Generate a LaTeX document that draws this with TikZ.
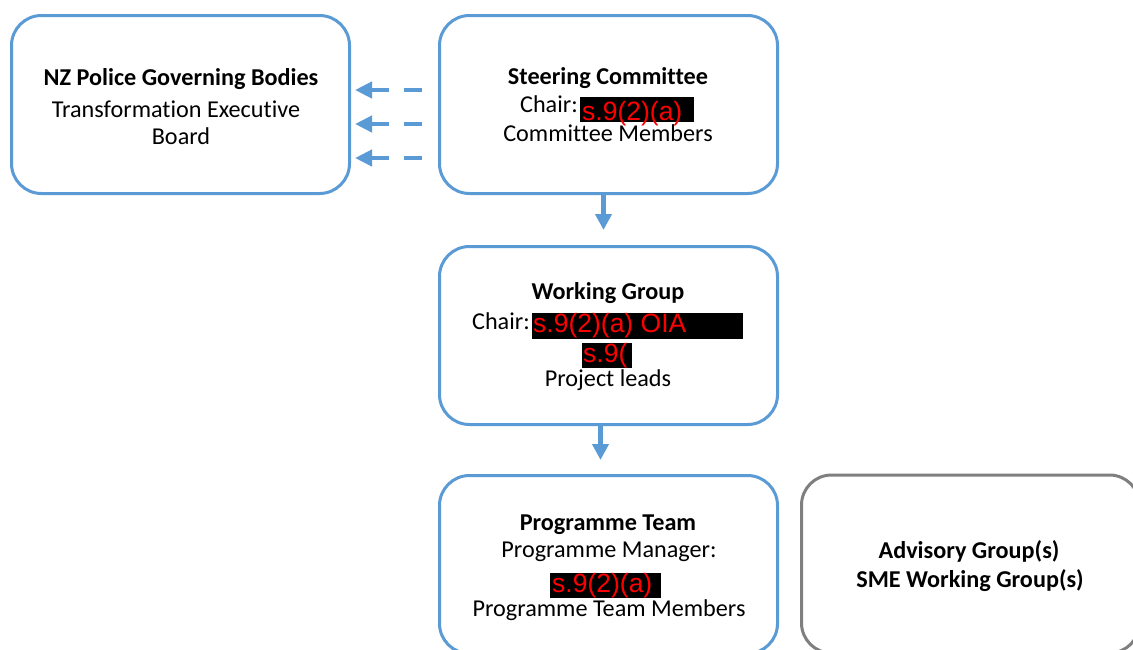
\documentclass[tikz,border=0pt]{standalone}
\usepackage{fontspec}
\setmainfont{Carlito}[Ligatures=NoCommon]
\newfontfamily\redactfont{Liberation Sans}
\usetikzlibrary{arrows.meta}
\definecolor{orgblue}{HTML}{5B9BD5}
\definecolor{orggray}{HTML}{7F7F7F}
\tikzset{
  orgbox/.style={draw=orgblue, line width=3pt, rounded corners=30pt,
    minimum width=338pt, minimum height=178pt, inner sep=0pt, outer sep=0pt},
  sidebox/.style={orgbox, draw=orggray},
  txt/.style={font=\fontsize{24.2}{28}\selectfont, inner sep=0pt, anchor=base},
  title/.style={txt, font=\fontsize{24.2}{28}\selectfont\bfseries},
  redact/.style={fill=black, inner sep=0pt, anchor=north west},
  redtext/.style={text=red, font=\redactfont\fontsize{26.5}{26.5}\selectfont,
    inner sep=0pt, anchor=base west},
  downarrow/.style={draw=orgblue, line width=4.5pt,
    -{Triangle[length=16pt,width=16pt]}},
  backarrow/.style={draw=orgblue, line width=4.5pt, dash pattern=on 18pt off 15pt,
    -{Triangle[length=17pt,width=16pt]}}
}
\begin{document}
\begin{tikzpicture}[x=1pt, y=-1pt]
\useasboundingbox (0,0) rectangle (1133,649);
\fill[white] (0,0) rectangle (1133,649);
\clip (0,0) rectangle (1133,649);

% boxes
\node[orgbox] (gov)   at (180.5,104.5) {};
\node[orgbox] (steer) at (608.5,104.5) {};
\node[orgbox] (work)  at (608.5,335.5) {};
\node[orgbox] (prog)  at (608.5,564.5) {};
\node[sidebox] (adv)  at (970.5,564)   {};

% governing bodies
\node[title] (govT)  at (181,85)  {NZ Police Governing Bodies};
\node[txt]   (govL1) at (176,117) {Transformation Executive};
\node[txt]   (govL2) at (181,144) {Board};

% steering committee
\node[title] (stT) at (608,84) {Steering Committee};
\node[txt, anchor=base east] (stChair) at (578,112) {Chair:};
\node[redact, minimum width=114pt, minimum height=25pt] (stR) at (580,97) {};
\node[redtext] (stRt) at (582,120) {s.9(2)(a)};
\node[txt] (stM) at (608,141.5) {Committee Members};

% working group
\node[title] (wgT) at (608,299) {Working Group};
\node[txt, anchor=base east] (wgChair) at (530,329) {Chair:};
\node[redact, minimum width=211pt, minimum height=26pt] (wgR1) at (531.5,312.3) {};
\node[redtext] (wgR1t) at (533,332.5) {s.9(2)(a) OIA};
\node[redact, minimum width=50pt, minimum height=24.5pt] (wgR2) at (581.5,342.8) {};
\node[redtext] (wgR2t) at (583,362) {s.9(};
\node[txt] (wgL) at (608,386.5) {Project leads};

% programme team
\node[title] (pgT) at (608,530) {Programme Team};
\node[txt] (pgM) at (609,557) {Programme Manager:};
\node[redact, minimum width=111pt, minimum height=24.5pt] (pgR) at (550,572.8) {};
\node[redtext] (pgRt) at (552,592.5) {s.9(2)(a)};
\node[txt] (pgL) at (609,616.5) {Programme Team Members};

% advisory groups
\node[title] (advT1) at (969,558) {Advisory Group(s)};
\node[title] (advT2) at (970,587) {SME Working Group(s)};

% reporting lines
\draw[downarrow, shorten >=16.5pt] ([xshift=-5pt]steer.south) -- ([xshift=-5pt]work.north);
\draw[downarrow, shorten >=15.5pt] ([xshift=-8pt]work.south) -- ([xshift=-8pt]prog.north);
\foreach \yy in {90,124,158}{
  \draw[backarrow, shorten <=17.5pt, shorten >=5.5pt]
    (steer.west |- 0,\yy) -- (gov.east |- 0,\yy);
}
\end{tikzpicture}
\end{document}
